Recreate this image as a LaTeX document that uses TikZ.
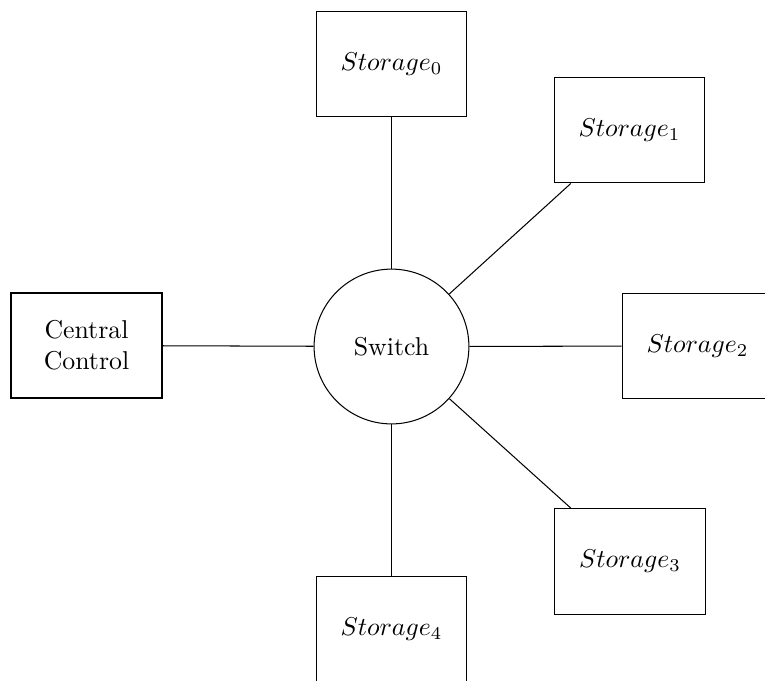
\documentclass[tikz,border=0pt]{standalone}
\begin{document}
\begin{tikzpicture}[x=0.3876pt, y=-0.3876pt,
  store/.style={draw, minimum width=58.5pt, minimum height=41pt, inner sep=0pt},
  ctrl/.style={draw, line width=0.8pt, minimum width=58.5pt, minimum height=41pt, align=center, inner sep=0pt},
  hub/.style={draw, circle, minimum size=60pt, inner sep=0pt},
  link/.style={draw}]
  \useasboundingbox (0,0) rectangle (765,680);
  \node[hub]   (sw) at (391.5,346.5) {Switch};
  \node[ctrl]  (cc) at (86.5,345.5)  {Central\\Control};
  \node[store] (s0) at (391.5,64)    {$Storage_0$};
  \node[store] (s1) at (629.5,130)   {$Storage_1$};
  \node[store] (s2) at (697.5,346)   {$Storage_2$};
  \node[store] (s3) at (630,561.5)   {$Storage_3$};
  \node[store] (s4) at (391.5,629)   {$Storage_4$};
  \foreach \n in {cc,s0,s1,s2,s3,s4}
    \path[link] (sw) -- (\n);
\end{tikzpicture}
\end{document}
